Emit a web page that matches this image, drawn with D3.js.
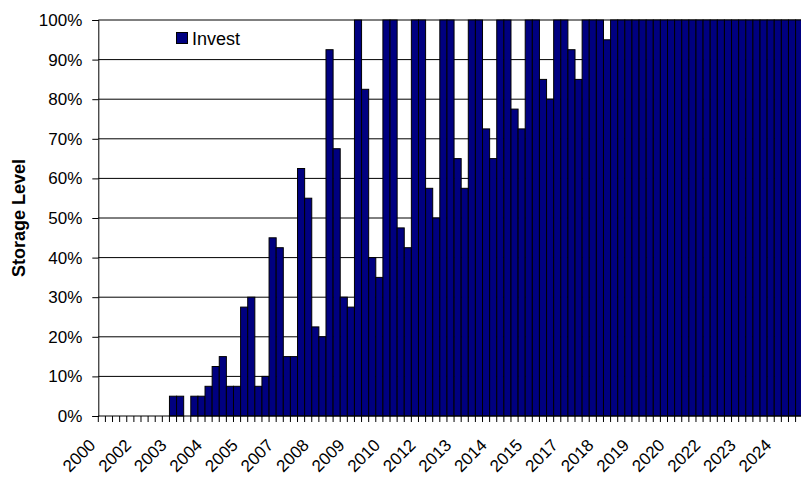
<!DOCTYPE html>
<html>
<head>
<meta charset="utf-8">
<script src="https://cdn.jsdelivr.net/npm/d3@7"></script>
<style>
  html, body { margin: 0; padding: 0; background: #fff; overflow: hidden; }
  svg { display: block; }
  text { font-family: "Liberation Sans", Arial, sans-serif; fill: #000; }
</style>
</head>
<body>
<svg id="chart" width="801" height="477"></svg>
<script>
// Quarterly periods (year + fraction), 2000.25 .. 2024.75
const periods = [
  2000.25, 2000.5, 2000.75, 2001, 2001.25, 2001.5, 2001.75, 2002, 2002.25, 2002.5,
  2002.75, 2003, 2003.25, 2003.5, 2003.75, 2004, 2004.25, 2004.5, 2004.75, 2005,
  2005.25, 2005.5, 2005.75, 2006, 2006.25, 2006.5, 2006.75, 2007, 2007.25, 2007.5,
  2007.75, 2008, 2008.25, 2008.5, 2008.75, 2009, 2009.25, 2009.5, 2009.75, 2010,
  2010.25, 2010.5, 2010.75, 2011, 2011.25, 2011.5, 2011.75, 2012, 2012.25, 2012.5,
  2012.75, 2013, 2013.25, 2013.5, 2013.75, 2014, 2014.25, 2014.5, 2014.75, 2015,
  2015.25, 2015.5, 2015.75, 2016, 2016.25, 2016.5, 2016.75, 2017, 2017.25, 2017.5,
  2017.75, 2018, 2018.25, 2018.5, 2018.75, 2019, 2019.25, 2019.5, 2019.75, 2020,
  2020.25, 2020.5, 2020.75, 2021, 2021.25, 2021.5, 2021.75, 2022, 2022.25, 2022.5,
  2022.75, 2023, 2023.25, 2023.5, 2023.75, 2024, 2024.25, 2024.5, 2024.75
];

// Storage level of "Invest" series (%)
const invest = [
  0, 0, 0, 0, 0, 0, 0, 0, 0, 0,
  5, 5, 0, 5, 5, 7.5, 12.5, 15, 7.5, 7.5,
  27.5, 30, 7.5, 10, 45, 42.5, 15, 15, 62.5, 55,
  22.5, 20, 92.5, 67.5, 30, 27.5, 100, 82.5, 40, 35,
  100, 100, 47.5, 42.5, 100, 100, 57.5, 50, 100, 100,
  65, 57.5, 100, 100, 72.5, 65, 100, 100, 77.5, 72.5,
  100, 100, 85, 80, 100, 100, 92.5, 85, 100, 100,
  100, 95, 100, 100, 100, 100, 100, 100, 100, 100,
  100, 100, 100, 100, 100, 100, 100, 100, 100, 100,
  100, 100, 100, 100, 100, 100, 100, 100, 100
];

// Tick labels shown every 5th period
const tickLabels = ["2000", "2002", "2003", "2004", "2005", "2007", "2008", "2009", "2010", "2012",
                    "2013", "2014", "2015", "2017", "2018", "2019", "2020", "2022", "2023", "2024"];
const yTicks = [0, 10, 20, 30, 40, 50, 60, 70, 80, 90, 100];
const seriesName = "Invest";
const yTitle = "Storage Level";

const svg = d3.select("#chart");
const mLeft = 98.3, mRight = 802.7, mTop = 20, mBottom = 416;

const x = d3.scaleBand().domain(d3.range(periods.length)).range([mLeft, mRight]).padding(0);
const y = d3.scaleLinear().domain([0, 100]).range([mBottom, mTop]);

// gridlines
svg.append("g").selectAll("line").data(yTicks.filter(d => d > 0)).join("line")
  .attr("x1", mLeft).attr("x2", mRight)
  .attr("y1", d => y(d)).attr("y2", d => y(d))
  .attr("stroke", "#000").attr("stroke-width", 1);

// bars
svg.append("g").selectAll("rect").data(invest).join("rect")
  .attr("x", (d, i) => x(i))
  .attr("width", x.bandwidth())
  .attr("y", d => y(d))
  .attr("height", d => mBottom - y(d))
  .attr("fill", "#000080")
  .attr("stroke", "#000")
  .attr("stroke-width", 1)
  .attr("display", d => d > 0 ? null : "none");

// y axis
const yAxis = d3.axisLeft(y).tickValues(yTicks).tickFormat(d => d + "%").tickSize(6).tickPadding(10);
const gy = svg.append("g").attr("transform", `translate(${mLeft},0)`).call(yAxis);
gy.select(".domain").attr("stroke", "#000");
gy.selectAll(".tick line").attr("stroke", "#000");
gy.selectAll(".tick text").attr("font-size", 17).attr("font-family", '"Liberation Sans", Arial, sans-serif').attr("fill", "#000");

// x axis: ticks at category boundaries
const boundaries = d3.range(periods.length + 1).map(i => mLeft + i * x.step());
const gx = svg.append("g");
gx.append("line").attr("x1", mLeft).attr("x2", mRight).attr("y1", mBottom).attr("y2", mBottom).attr("stroke", "#000");
gx.selectAll("line.t").data(boundaries).join("line").attr("class", "t")
  .attr("x1", d => d).attr("x2", d => d).attr("y1", mBottom).attr("y2", mBottom + 6)
  .attr("stroke", "#000");

gx.selectAll("text").data(tickLabels).join("text")
  .attr("transform", (d, k) => {
    const cx = x(k * 5) + x.bandwidth() / 2 - 9.5;
    return `translate(${cx},${mBottom + 26}) rotate(-45)`;
  })
  .attr("text-anchor", "end")
  .attr("dy", "0.35em")
  .attr("font-size", 17)
  .text(d => d);

// y title
svg.append("text")
  .attr("transform", `translate(25,${(mTop + mBottom) / 2}) rotate(-90)`)
  .attr("text-anchor", "middle")
  .attr("font-size", 18)
  .attr("font-weight", "bold")
  .text(yTitle);

// legend
const lg = svg.append("g");
lg.append("rect").attr("x", 176.5).attr("y", 32.5).attr("width", 11).attr("height", 11)
  .attr("fill", "#000080").attr("stroke", "#000");
lg.append("text").attr("x", 192).attr("y", 45).attr("font-size", 18).text(seriesName);
</script>
</body>
</html>
